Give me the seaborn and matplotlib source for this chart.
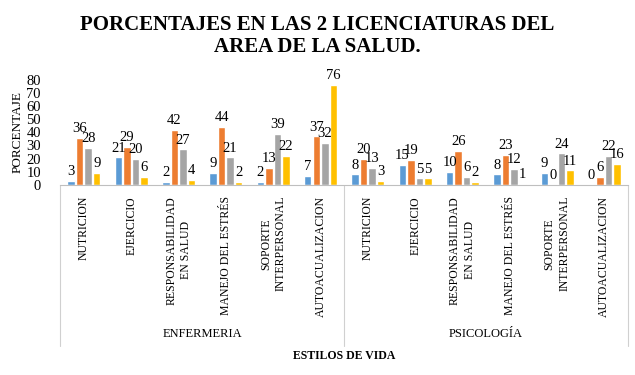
import matplotlib
matplotlib.use("Agg")
import matplotlib.pyplot as plt
import seaborn as sns
import pandas as pd

# Data

categorias = ['NUTRICION', 'EJERCICIO', 'RESPONSABILIDAD\nEN SALUD', 'MANEJO DEL ESTRÉS',
              'SOPORTE\nINTERPERSONAL', 'AUTOACUALIZACION']
carreras = ['ENFERMERIA', 'PSICOLOGÍA']
series = ['Serie 1', 'Serie 2', 'Serie 3', 'Serie 4']

enfermeria = [[3, 36, 28, 9],
              [21, 29, 20, 6],
              [2, 42, 27, 4],
              [9, 44, 21, 2],
              [2, 13, 39, 22],
              [7, 37, 32, 76]]
psicologia = [[8, 20, 13, 3],
              [15, 19, 5, 5],
              [10, 26, 6, 2],
              [8, 23, 12, 1],
              [9, 0, 24, 11],
              [0, 6, 22, 16]]

colores = ['#5B9BD5', '#ED7D31', '#A5A5A5', '#FFC000']

rows = []
for carrera, tabla in zip(carreras, [enfermeria, psicologia]):
  for cat, vals in zip(categorias, tabla):
    for s, v in zip(series, vals):
      rows.append({'pos': carrera + '|' + cat, 'serie': s, 'valor': v})
df = pd.DataFrame(rows)
orden = [c + '|' + k for c in carreras for k in categorias]

sns.set_style('white')
plt.rcParams['font.family'] = ['Liberation Serif', 'DejaVu Serif']
plt.rcParams['text.color'] = 'black'
plt.rcParams['xtick.color'] = 'black'
plt.rcParams['ytick.color'] = 'black'
plt.rcParams['axes.labelcolor'] = 'black'

fig = plt.figure(figsize=(6.35, 3.75), dpi=100)
ax = fig.add_axes([0.095, 0.507, 0.894, 0.28])

sns.barplot(data=df, x='pos', y='valor', hue='serie', order=orden, hue_order=series,
            palette=colores, saturation=1, width=0.72, gap=0.12, ax=ax, legend=False)

for cont in ax.containers:
  ax.bar_label(cont, fontsize=10.5, padding=2, color='black')

ax.set_ylim(0, 80)
ax.set_xlim(-0.5, len(orden) - 0.5)
ax.set_yticks(range(0, 81, 10))
ax.tick_params(axis='y', labelsize=10.5, length=0, pad=14)
ax.set_xticks(range(len(orden)))
ax.set_xticklabels([o.split('|')[1] for o in orden], rotation=90, fontsize=8.5,
                   va='top', ha='center', linespacing=1.3)
ax.tick_params(axis='x', length=0, pad=8)
ax.set_xlabel('')
ax.set_ylabel('PORCENTAJE', fontsize=9.5, labelpad=2)

for side in ['left', 'right', 'top']:
  ax.spines[side].set_visible(False)
ax.spines['bottom'].set_color('#BFBFBF')

# separators between groups and group labels
for xs in [0, 0.5, 1]:
  ax.plot([xs, xs], [0, -1.53], transform=ax.transAxes, color='#D0D0D0', lw=0.8, clip_on=False)
for i, carrera in enumerate(carreras):
  ax.text(0.25 + 0.5 * i, -1.42, carrera, transform=ax.transAxes, ha='center', va='center',
          fontsize=9)

ax.text(0.5, -1.63, 'ESTILOS DE VIDA', transform=ax.transAxes, ha='center', va='center',
        fontsize=8.5, fontweight='bold')

fig.text(0.5, 0.905, 'PORCENTAJES EN LAS 2 LICENCIATURAS DEL\nAREA DE LA SALUD.', ha='center',
         va='center', fontsize=15, fontweight='bold', linespacing=1.15)

fig.savefig('out.png', dpi=100)
